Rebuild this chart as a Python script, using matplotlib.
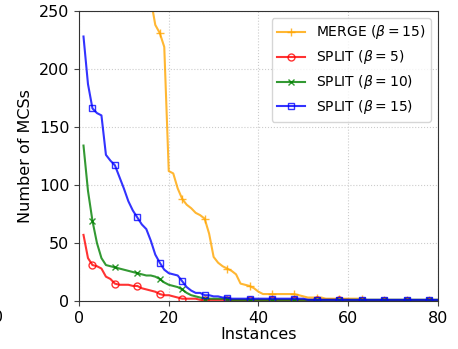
import numpy as np
import matplotlib.pyplot as plt

instances = np.arange(1, 81)

merge_15 = [620, 580, 545, 510, 480, 450, 425, 400, 380, 360, 340, 320, 305, 290, 275, 260,
            238, 231, 219, 112, 110, 97, 88, 83, 80, 76, 74, 71, 58, 38,
            33, 30, 28, 26, 23, 15, 14, 13, 11, 8, 6, 6, 6, 6, 6, 6, 6, 6, 5, 4,
            3, 3, 3, 3, 2, 2, 2, 2, 2, 2, 2, 2, 2, 1, 1, 1, 1, 1, 1, 1,
            1, 1, 1, 1, 1, 1, 1, 1, 1, 1]
split_5 = [57, 37, 31, 30, 28, 21, 19, 15, 14, 14, 14, 13, 13, 11, 10, 9, 8, 6, 5, 5,
           4, 3, 2, 2, 2, 2, 1, 1, 1, 1, 1, 1, 1, 1, 1, 1, 1, 1, 1, 1,
           1, 1, 1, 1, 1, 1, 1, 1, 1, 1, 1, 1, 1, 1, 1, 1, 1, 1, 1, 1,
           0, 0, 0, 0, 0, 0, 0, 0, 0, 0, 0, 0, 0, 0, 0, 0, 0, 0, 0, 0]
split_10 = [134, 95, 69, 50, 37, 31, 30, 29, 28, 27, 26, 25, 24, 23, 22, 22, 21, 19, 16, 14,
            13, 12, 10, 7, 5, 4, 3, 2, 2, 2, 2, 2, 2, 1, 1, 1, 1, 1, 1, 1,
            1, 1, 1, 1, 1, 1, 1, 1, 1, 1, 1, 1, 1, 1, 1, 1, 1, 1, 1, 1,
            1, 1, 1, 1, 1, 1, 1, 1, 1, 1, 1, 1, 1, 1, 1, 1, 1, 1, 1, 1]
split_15 = [228, 187, 166, 162, 160, 126, 121, 117, 107, 97, 86, 78, 72, 66, 62, 52, 40, 33, 27, 24,
            23, 22, 17, 12, 9, 7, 7, 5, 5, 4, 4, 3, 3, 2, 2, 2, 2, 2, 2, 2,
            2, 2, 2, 2, 2, 2, 2, 2, 2, 2, 1, 1, 1, 1, 1, 1, 1, 1, 1, 1,
            1, 1, 1, 1, 1, 1, 1, 1, 1, 1, 1, 1, 1, 1, 1, 1, 1, 1, 1, 1]

fig = plt.figure(figsize=(4.58, 3.49), dpi=100)
ax = fig.add_axes([0.1725, 0.1375, 0.7838, 0.831])

every = (2, 5)
ax.plot(instances, merge_15, color="orange", alpha=0.8, marker="+", ms=6,
        markevery=every, label=r"MERGE ($\beta=15$)")
ax.plot(instances, split_5, color="red", alpha=0.8, marker="o", ms=5, mfc="none",
        markevery=every, label=r"SPLIT ($\beta=5$)")
ax.plot(instances, split_10, color="green", alpha=0.8, marker="x", ms=5,
        markevery=every, label=r"SPLIT ($\beta=10$)")
ax.plot(instances, split_15, color="blue", alpha=0.8, marker="s", ms=5, mfc="none",
        markevery=every, label=r"SPLIT ($\beta=15$)")

ax.set_xlim(0, 80)
ax.set_ylim(0, 250)
ax.set_xticks([0, 20, 40, 60, 80])
ax.set_yticks([0, 50, 100, 150, 200, 250])
ax.tick_params(labelsize=11.5, length=3.5, color="#444444")
for s in ax.spines.values():
    s.set_color("#333333")
ax.grid(True, linestyle=":", color="#cccccc")
ax.set_xlabel("Instances", fontsize=11.5, labelpad=1)
ax.set_ylabel("Number of MCSs", fontsize=11.5)
ax.legend(loc="upper right", fontsize=10)

# tick label of the neighbouring panel, cut at the figure edge
fig.text(-0.004, 0.0894, "0", fontsize=11.5, ha="center", va="center")

fig.savefig("out.png", dpi=100)
